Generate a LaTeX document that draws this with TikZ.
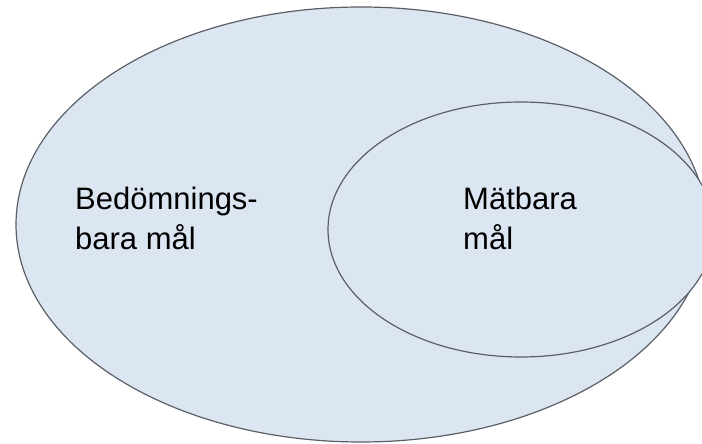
\documentclass[tikz,border=0pt]{standalone}
\usepackage{fontspec}
\setmainfont{Liberation Sans}
\usetikzlibrary{shapes.geometric}
\definecolor{setfill}{HTML}{DCE6F2}
\definecolor{setline}{HTML}{5A5F66}
\tikzset{
	setshape/.style={ellipse, draw=setline, line width=1.2pt, fill=setfill, inner sep=0pt},
	setlabel/.style={align=left, inner sep=0pt, anchor=base west, font=\fontsize{31}{40}\selectfont}
}

\begin{document}
\begin{tikzpicture}[x=1pt,y=1pt]
		\useasboundingbox (0,0) rectangle (702,444);
		\clip (0,0) rectangle (702,444);
		% outer and inner set
		\node[setshape, minimum width=690pt, minimum height=435pt] (bedomning) at (361,219.5) {};
		\node[setshape, minimum width=386pt, minimum height=255pt] (matbar) at (521,214.5) {};
		% labels
		\node[setlabel] (bedomningtext) at (75,194) {Bedömnings-\\bara mål};
		\node[setlabel] (matbartext) at (463,194) {Mätbara\\mål};
	\end{tikzpicture}
\end{document}
